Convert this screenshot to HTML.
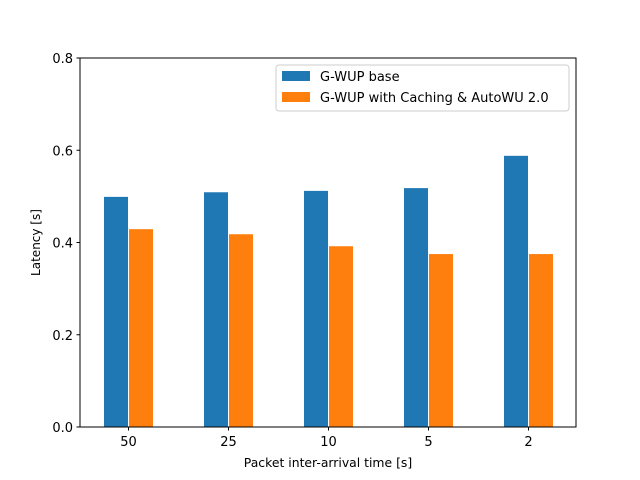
<!DOCTYPE html>
<html><head><meta charset="utf-8"><style>
body{margin:0;background:#fff;}
svg{display:block;font-family:"DejaVu Sans","Liberation Sans",sans-serif;}
</style></head><body>
<svg id="chart" width="640" height="480"></svg>
<script>
const categories = ["50","25","10","5","2"];
const baseValues = [0.5, 0.51, 0.513, 0.519, 0.589];
const cachingValues = [0.43, 0.419, 0.393, 0.376, 0.376];
const yTicks = [0.0, 0.2, 0.4, 0.6, 0.8];
const seriesNames = ["G-WUP base", "G-WUP with Caching & AutoWU 2.0"];

const NS = "http://www.w3.org/2000/svg";
const svg = document.getElementById("chart");
const L=80,R=576,T=58,B=427;
function y(v){return B-(v/0.8)*(B-T);}
function xc(i){return 128.5+i*100;}
function mk(tag,attrs,parent){const e=document.createElementNS(NS,tag);for(const k in attrs)e.setAttribute(k,attrs[k]);(parent||svg).appendChild(e);return e;}

const bw=25;
baseValues.forEach((v,i)=>{
  const r=mk("rect",{x:xc(i)-bw,y:y(v),width:bw,height:B-y(v),fill:"#1f77b4",stroke:"#fff","stroke-width":1});
  
  
});
cachingValues.forEach((v,i)=>{
  const r=mk("rect",{x:xc(i),y:y(v),width:bw,height:B-y(v),fill:"#ff7f0e",stroke:"#fff","stroke-width":1});
  
  
});
const frame=mk("rect",{x:L,y:T,width:R-L,height:B-T,fill:"none",stroke:"#000","stroke-width":1});



yTicks.forEach(t=>{
  mk("line",{x1:L-3.5,x2:L,y1:y(t),y2:y(t),stroke:"#000"});
  const tx=mk("text",{x:L-7,y:y(t)+5,"text-anchor":"end","font-size":13});
  tx.textContent=t.toFixed(1);
  
  
});
categories.forEach((c,i)=>{
  mk("line",{x1:xc(i),x2:xc(i),y1:B,y2:B+3.5,stroke:"#000"});
  const tx=mk("text",{x:xc(i),y:B+19,"text-anchor":"middle","font-size":13});
  tx.textContent=c;
  
  
});
const xt=mk("text",{x:(L+R)/2,y:467,"text-anchor":"middle","font-size":12.4});
xt.textContent="Packet inter-arrival time [s]";


const yt=mk("text",{x:0,y:0,"text-anchor":"middle","font-size":12,transform:`translate(40,${(T+B)/2}) rotate(-90)`});
yt.textContent="Latency [s]";



const lg=mk("g",{});


mk("rect",{x:276,y:65,width:293,height:46,rx:3,fill:"#fff",stroke:"#ccc"},lg);
const cols=["#1f77b4","#ff7f0e"];
seriesNames.forEach((n,i)=>{
  mk("rect",{x:282,y:71+i*21,width:28,height:10,fill:cols[i]},lg);
  const t=mk("text",{x:320,y:81+i*21,"font-size":13},lg);
  t.textContent=n;
  
  
});
</script>
</body></html>
